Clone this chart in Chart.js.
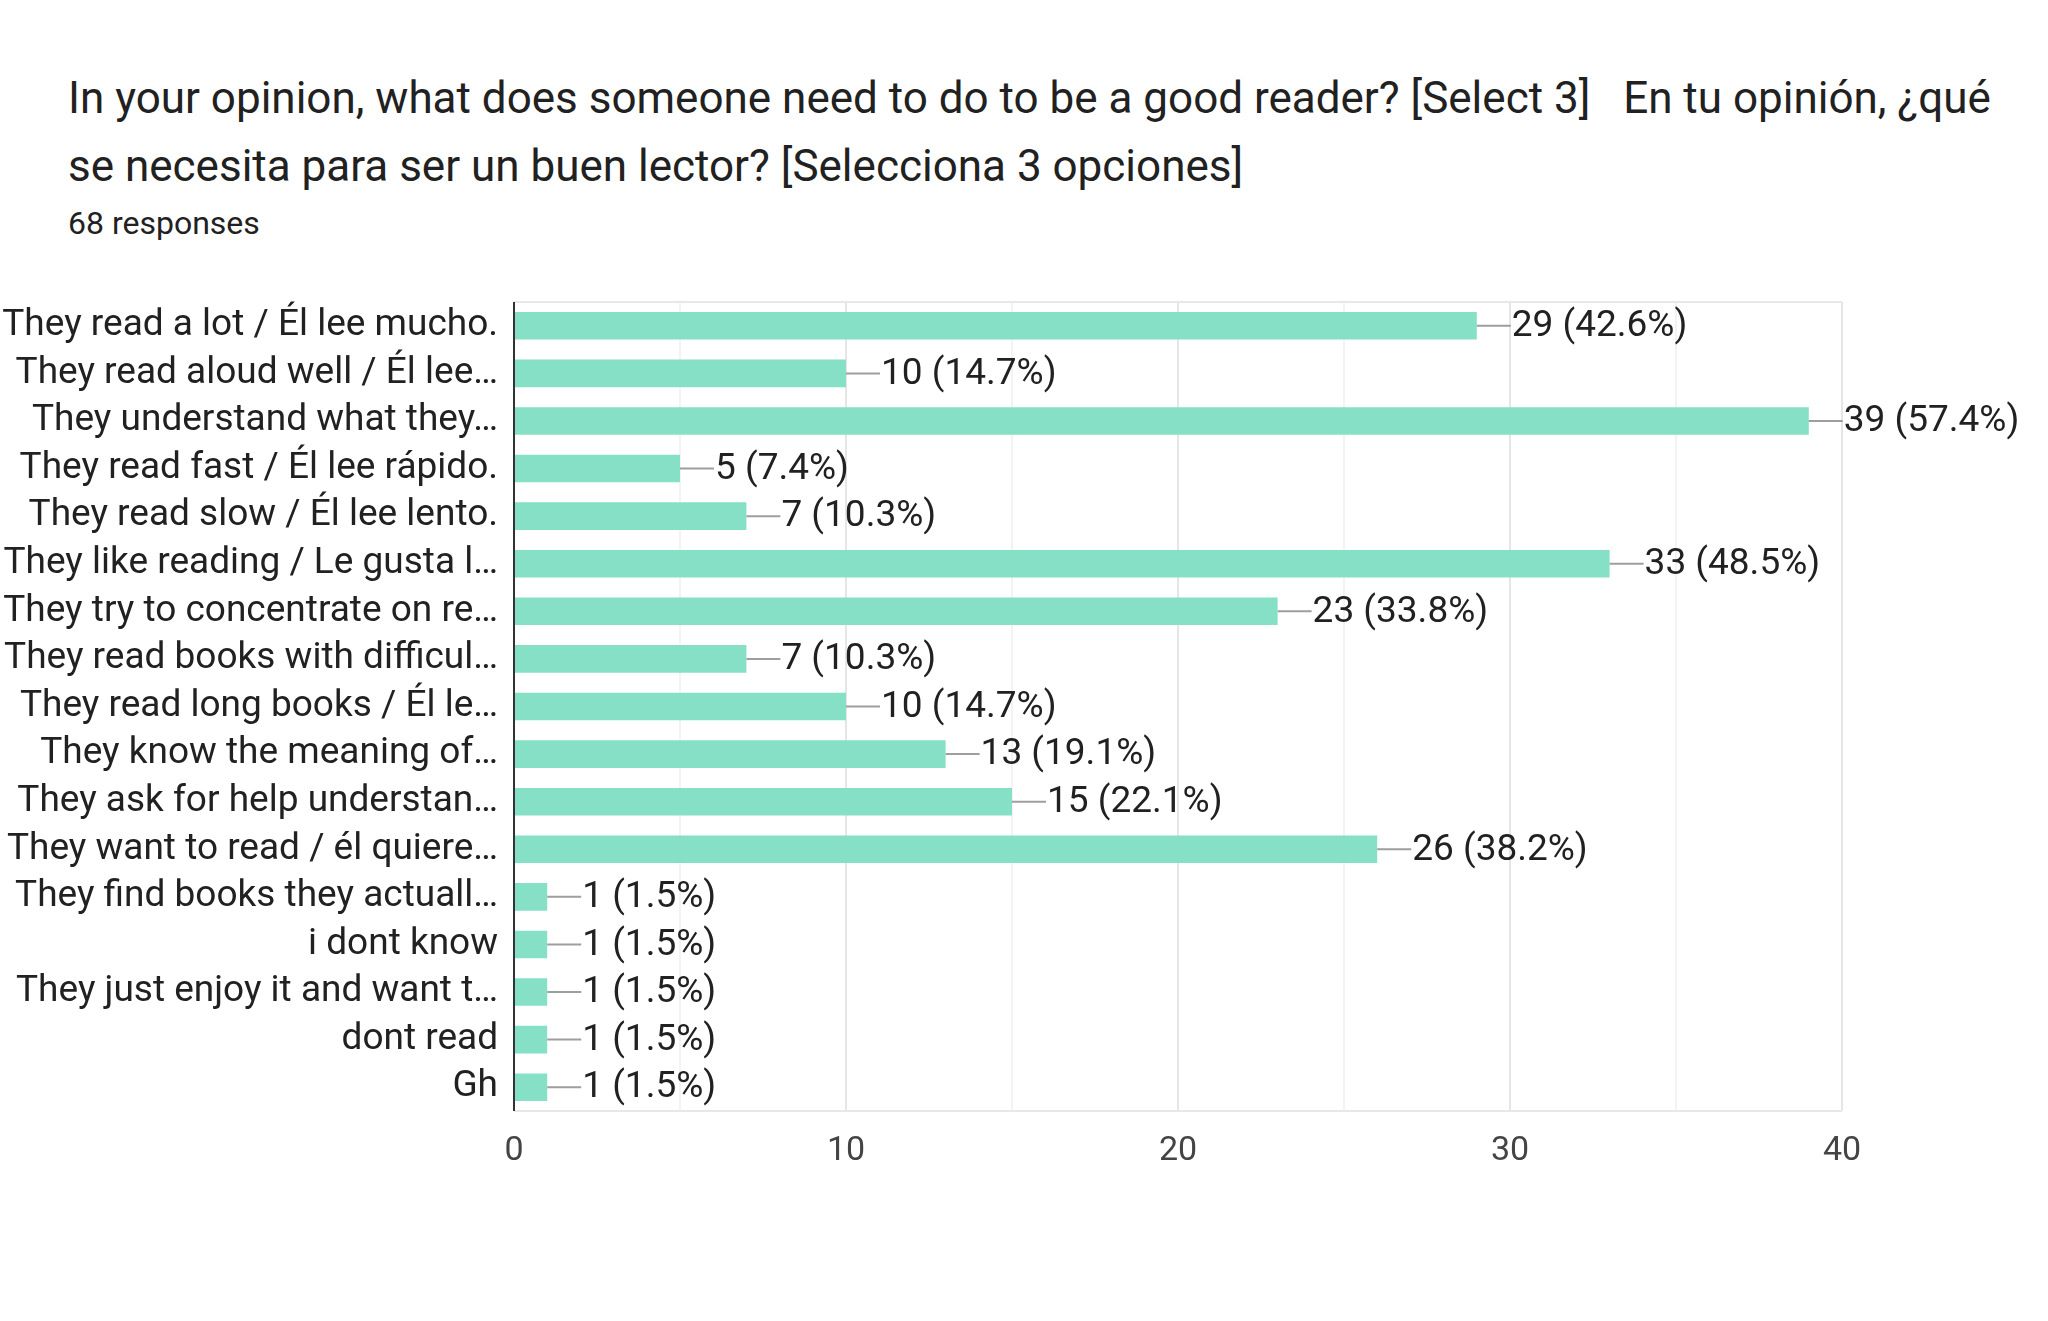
<!DOCTYPE html>
<html><head><meta charset="utf-8">
<script src="https://cdn.jsdelivr.net/npm/chart.js@4"></script>
<style>
body{margin:0;background:#fff;font-family:Roboto,sans-serif;}
#wrap{position:relative;width:2048px;height:1321px;}
#title{position:absolute;left:68px;top:64px;width:1960px;font-size:44px;line-height:68px;color:#212121;}
#resp{position:absolute;left:68px;top:204px;font-size:32px;color:#212121;}
canvas{position:absolute;left:0;top:0;}
</style></head><body>
<div id="wrap">
<div id="title">In your opinion, what does someone need to do to be a good reader? [Select 3] &nbsp; En tu opinión, ¿qué se necesita para ser un buen lector? [Selecciona 3 opciones]</div>
<div id="resp">68 responses</div>
<canvas id="c" width="2048" height="1321"></canvas>
</div>
<script>
const labels = ["They read a lot / Él lee mucho.","They read aloud well / Él lee…","They understand what they…","They read fast / Él lee rápido.","They read slow / Él lee lento.","They like reading / Le gusta l…","They try to concentrate on re…","They read books with difficul…","They read long books / Él le…","They know the meaning of…","They ask for help understan…","They want to read / él quiere…","They find books they actuall…","i dont know","They just enjoy it and want t…","dont read","Gh"];
const counts = [29,10,39,5,7,33,23,7,10,13,15,26,1,1,1,1,1];
const pcts = ["42.6","14.7","57.4","7.4","10.3","48.5","33.8","10.3","14.7","19.1","22.1","38.2","1.5","1.5","1.5","1.5","1.5"];

const labelPlugin = {
  id: "valLabels",
  afterDatasetsDraw(chart) {
    const ctx = chart.ctx;
    const meta = chart.getDatasetMeta(0);
    ctx.save();
    ctx.font = "37px Roboto";
    ctx.textBaseline = "middle";
    meta.data.forEach((bar, i) => {
      ctx.strokeStyle = "#9e9e9e";
      ctx.lineWidth = 2;
      ctx.beginPath();
      ctx.moveTo(bar.x, bar.y);
      ctx.lineTo(bar.x + 34, bar.y);
      ctx.stroke();
      ctx.fillStyle = "#212121";
      ctx.fillText(counts[i] + " (" + pcts[i] + "%)", bar.x + 35, bar.y + 1);
    });
    const a = chart.chartArea;
    ctx.strokeStyle = "#e8e8e8";
    ctx.lineWidth = 2;
    ctx.beginPath();
    ctx.moveTo(a.left, a.top); ctx.lineTo(a.right, a.top);
    ctx.moveTo(a.left, a.bottom); ctx.lineTo(a.right, a.bottom);
    ctx.stroke();
    ctx.strokeStyle = "#333";
    ctx.beginPath();
    ctx.moveTo(a.left, a.top); ctx.lineTo(a.left, a.bottom);
    ctx.stroke();
    ctx.restore();
  }
};

new Chart(document.getElementById("c"), {
  type: "bar",
  data: {
    labels: labels,
    datasets: [{ data: counts, backgroundColor: "#85e0c5", categoryPercentage: 1, barPercentage: 0.58 }]
  },
  options: {
    indexAxis: "y",
    responsive: false,
    animation: false,
    layout: { padding: { top: 302, right: 206, bottom: 150, left: 0 } },
    plugins: { legend: { display: false }, tooltip: { enabled: false } },
    scales: {
      x: {
        min: 0, max: 40,
        ticks: { stepSize: 5, color: "#444", font: { size: 34, family: "Roboto" }, padding: 20,
          callback: v => v % 10 === 0 ? v : "" },
        grid: { color: ctx => ctx.tick && ctx.tick.value % 10 === 0 ? "#e6e6e6" : "#f3f3f3", lineWidth: 2, drawTicks: false },
        border: { display: false },
        afterFit: s => { s.height = 60; }
      },
      y: {
        ticks: { color: "#212121", font: { size: 37, family: "Roboto" }, padding: 8, autoSkip: false },
        grid: { display: false },
        border: { display: false },
        afterFit: s => { s.width = 514; }
      }
    }
  },
  plugins: [labelPlugin]
});
</script>
</body></html>
